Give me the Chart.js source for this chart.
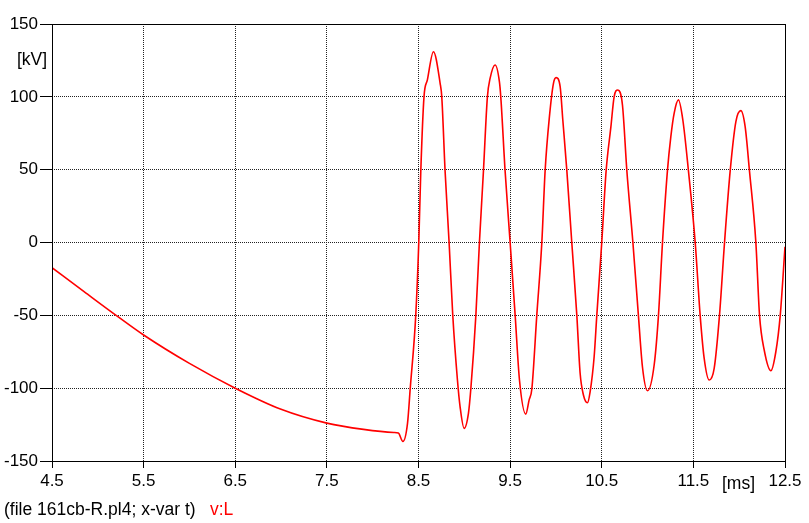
<!DOCTYPE html>
<html>
<head>
<meta charset="utf-8">
<script src="https://cdn.jsdelivr.net/npm/chart.js@4.4.1/dist/chart.umd.min.js"></script>
<style>
    html, body { margin: 0; padding: 0; background: #fff; }
    #chart { display: block; }
</style>
</head>
<body>
<canvas id="chart" width="809" height="523"></canvas>
<script>
'use strict'

// Voltage v:L, time in ms
const timeMs = [
    4.5, 4.85, 5.2, 5.5, 6.0, 6.5, 7.0, 7.5, 7.9, 8.23, 8.28,
    8.33, 8.38, 8.41, 8.47, 8.503, 8.525, 8.56, 8.597, 8.663, 8.736, 8.754, 8.79,
    8.834, 8.874, 8.925, 8.954, 8.998, 9.045, 9.071, 9.126, 9.165, 9.209, 9.252, 9.282,
    9.336, 9.383, 9.398, 9.445, 9.5, 9.555, 9.602, 9.671, 9.707, 9.737, 9.791, 9.846,
    9.882, 9.929, 9.973, 10.002, 10.046, 10.075, 10.119, 10.173, 10.228, 10.264, 10.3, 10.344,
    10.373, 10.417, 10.446, 10.5, 10.548, 10.6, 10.635, 10.676, 10.726, 10.774, 10.84, 10.9,
    10.944, 10.999, 11.072, 11.119, 11.163, 11.217, 11.254, 11.29, 11.337, 11.385, 11.446, 11.52,
    11.574, 11.618, 11.672, 11.727, 11.785, 11.84, 11.902, 11.964, 12.018, 12.065, 12.112, 12.182,
    12.222, 12.273, 12.346, 12.4, 12.448, 12.5
]
const voltKV = [
    -17.3, -33.7, -50, -63.5, -83, -100, -114.5, -124, -128.3, -130.4, -130.8,
    -136.6, -124.2, -100, -50, 0, 49, 100, 111.6, 131, 109.3, 100, 49.3,
    0, -50, -94.4, -112.8, -127.6, -117.3, -100.6, -50, 0, 49.3, 100, 112.8,
    121.9, 110.4, 100, 49.3, 0, -50, -94.4, -117.8, -108.2, -100.6, -50, 0,
    49.3, 86.4, 109.3, 113.2, 107, 84.1, 49.3, 0, -50, -89.8, -104.7, -110,
    -102.5, -78.4, -50, 0, 49.3, 79.5, 100, 104.7, 94.4, 49.3, 0, -50,
    -85.3, -101.8, -84.1, -50, 0, 49.3, 72.7, 88.7, 97.9, 84.1, 49.3, 0,
    -50, -79.6, -94.4, -86.4, -50, 0, 49.3, 83, 90.5, 79.5, 49.3, 0,
    -50, -73.8, -88, -75, -50, -3
]

const xTicks = [4.5, 5.5, 6.5, 7.5, 8.5, 9.5, 10.5, 11.5, 12.5]
const yTicks = [-150, -100, -50, 0, 50, 100, 150]

const fontFamily = '"Liberation Sans", Arial, sans-serif'
const ctx = document.querySelector('#chart').getContext('2d')

// frame + unit labels + footer
const decorations = {
    id: 'decorations',
    afterDraw(chart) {
        const { ctx, chartArea: a } = chart
        ctx.save()
        ctx.strokeStyle = '#000'
        ctx.lineWidth = 1
        ctx.setLineDash([])
        ctx.strokeRect(Math.round(a.left) + 0.5, Math.round(a.top) + 0.5,
            Math.round(a.right - a.left), Math.round(a.bottom - a.top))

        ctx.font = `17.5px ${fontFamily}`
        ctx.textBaseline = 'middle'
        ctx.textAlign = 'left'
        ctx.fillStyle = '#000'
        ctx.fillText('[kV]', 17, 60)
        ctx.fillText('[ms]', 722, 484)
        ctx.fillText('(file 161cb-R.pl4; x-var t)', 4, 510)
        ctx.fillStyle = '#ff0000'
        ctx.fillText('v:L', 210, 510)
        ctx.restore()
    }
}

const config = {
    type: 'line',
    data: {
        datasets: [{
            label: 'v:L',
            data: timeMs.map((t, i) => ({ x: t, y: voltKV[i] })),
            borderColor: '#ff0000',
            borderWidth: 1.6,
            pointRadius: 0,
            cubicInterpolationMode: 'monotone',
            fill: false
        }]
    },
    options: {
        responsive: false,
        devicePixelRatio: 1,
        animation: false,
        layout: { padding: { left: 0, top: 24, right: 24, bottom: 0 } },
        plugins: {
            legend: { display: false },
            tooltip: { enabled: false }
        },
        scales: {
            x: {
                type: 'linear',
                min: 4.5,
                max: 12.5,
                afterBuildTicks: scale => { scale.ticks = xTicks.map(v => ({ value: v })) },
                afterFit: scale => { scale.height = 62 },
                grid: { color: '#222', tickColor: '#000', tickLength: 7, lineWidth: 1 },
                border: { display: false, dash: [1, 1] },
                ticks: {
                    color: '#000',
                    padding: 3,
                    maxRotation: 0,
                    font: { family: fontFamily, size: 17 },
                    callback: v => v.toFixed(1)
                }
            },
            y: {
                min: -150,
                max: 150,
                afterBuildTicks: scale => { scale.ticks = yTicks.map(v => ({ value: v })) },
                afterFit: scale => { scale.width = 52 },
                grid: { color: '#222', tickColor: '#000', tickLength: 12, lineWidth: 1 },
                border: { display: false, dash: [1, 1] },
                ticks: {
                    color: '#000',
                    padding: 2,
                    font: { family: fontFamily, size: 17 },
                    callback: v => String(v)
                }
            }
        }
    },
    plugins: [decorations]
}

const chart = new Chart(ctx, config)
</script>
</body>
</html>
